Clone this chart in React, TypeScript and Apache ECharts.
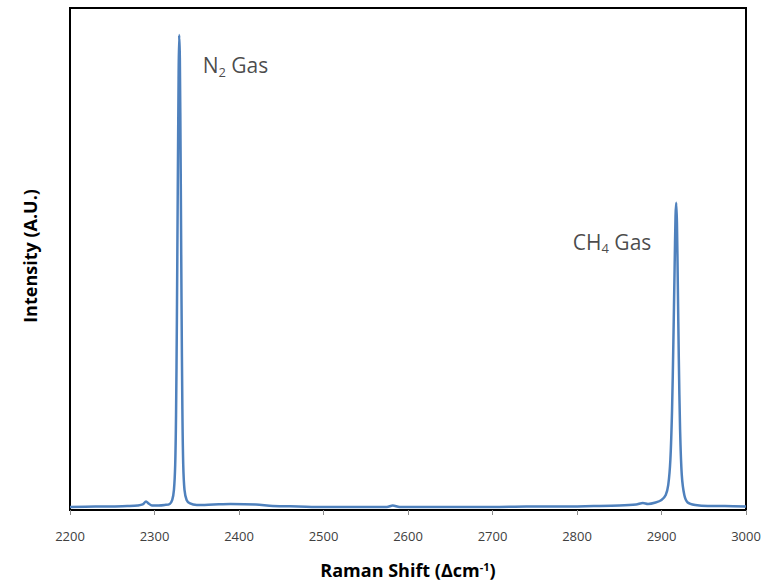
import React, { useEffect, useRef } from "react";
import * as echarts from "echarts";

const ramanShift = [
  2200, 2230, 2250, 2270, 2280, 2286, 2290, 2293, 2297, 2305, 2312, 2318, 2321, 2323, 2324.5,
  2325.5, 2326.5, 2327.5, 2328.5, 2329.2, 2330, 2331, 2332, 2333, 2334, 2335.5, 2338, 2342,
  2350, 2370, 2390, 2420, 2440, 2470, 2500, 2540, 2575, 2582, 2590, 2620, 2660, 2700, 2740,
  2780, 2820, 2850, 2870, 2878, 2884, 2893, 2900, 2905, 2908, 2910.5, 2912.5, 2914, 2915.5,
  2916.6, 2917.4, 2918.3, 2919.3, 2920.5, 2922, 2924, 2927, 2931, 2940, 2955, 2975, 3000,
];
const intensity = [
  0.006, 0.007, 0.007, 0.008, 0.009, 0.011, 0.017, 0.013, 0.009, 0.009, 0.01, 0.012, 0.02,
  0.04, 0.09, 0.19, 0.38, 0.63, 0.86, 0.946, 0.9, 0.68, 0.41, 0.2, 0.09, 0.04, 0.02, 0.013,
  0.01, 0.011, 0.012, 0.011, 0.008, 0.007, 0.006, 0.006, 0.006, 0.009, 0.006, 0.006, 0.006,
  0.006, 0.007, 0.007, 0.008, 0.009, 0.011, 0.014, 0.012, 0.015, 0.02, 0.03, 0.05, 0.1, 0.2,
  0.33, 0.48, 0.585, 0.612, 0.57, 0.45, 0.3, 0.16, 0.07, 0.03, 0.015, 0.01, 0.008, 0.008,
  0.007,
];
const xTicks = [2200, 2300, 2400, 2500, 2600, 2700, 2800, 2900, 3000];

const annotations = [
  { label: "N", sub: "2", rest: " Gas", x: 2357, y: 0.886 },
  { label: "CH", sub: "4", rest: " Gas", x: 2795, y: 0.534 },
];

export default function App() {
  const ref = useRef<HTMLDivElement>(null);
  useEffect(() => {
    if (!ref.current) return;
    const chart = echarts.init(ref.current, undefined, { renderer: "svg" });
    const font = "'Open Sans', 'Noto Sans', sans-serif";
    chart.setOption({
      animation: false,
      backgroundColor: "#ffffff",
      grid: {
        left: 70,
        right: 27,
        top: 8,
        bottom: 72,
        show: true,
        borderColor: "#000000",
        borderWidth: 2,
        backgroundColor: "transparent",
      },
      graphic: [
        {
          type: "text",
          x: 408,
          y: 570,
          style: {
            text: "{b|Raman Shift (Δcm}{sup|-1}{b|)}",
            align: "center",
            verticalAlign: "middle",
            rich: {
              b: { fontSize: 18, fontWeight: "bold", fontFamily: font, color: "#000000" },
              sup: {
                fontSize: 11,
                fontWeight: "bold",
                fontFamily: font,
                color: "#000000",
                verticalAlign: "top",
                padding: [0, 0, 7, 0],
              },
            },
          },
        },
        {
          type: "text",
          x: 30,
          y: 256,
          rotation: Math.PI / 2,
          style: {
            text: "Intensity (A.U.)",
            align: "center",
            verticalAlign: "middle",
            fontSize: 18,
            fontWeight: "bold",
            fontFamily: font,
            fill: "#000000",
          },
        },
      ],
      xAxis: {
        type: "value",
        min: 2200,
        max: 3000,
        interval: 100,
        axisLine: { show: true, lineStyle: { color: "#000000", width: 2 } },
        axisTick: { show: true, length: 5, lineStyle: { color: "#8c8c8c", width: 1 } },
        axisLabel: {
          color: "#404040",
          fontFamily: font,
          fontSize: 13,
          margin: 19,
          formatter: (v: number) => (xTicks.includes(v) ? String(v) : ""),
        },
        splitLine: { show: false },
      },
      yAxis: {
        type: "value",
        min: 0,
        max: 1,
        axisLine: { show: true, lineStyle: { color: "#000000", width: 2 } },
        axisTick: { show: false },
        axisLabel: { show: false },
        splitLine: { show: false },
      },
      series: [
        {
          type: "line",
          data: ramanShift.map((x, i) => [x, intensity[i]]),
          showSymbol: false,
          smooth: 0.3,
          lineStyle: { color: "#4f81bd", width: 2.5 },
          z: 3,
        },
        {
          type: "scatter",
          data: annotations.map((a) => [a.x, a.y]),
          symbolSize: 0,
          silent: true,
          label: {
            show: true,
            position: "right",
            distance: 0,
            fontFamily: font,
            formatter: (p: any) => {
              const a = annotations[p.dataIndex];
              return `{m|${a.label}}{s|${a.sub}}{m|${a.rest}}`;
            },
            rich: {
              m: { fontSize: 21, color: "#1a1a1a", fontFamily: font },
              s: {
                fontSize: 13,
                color: "#1a1a1a",
                fontFamily: font,
                verticalAlign: "bottom",
                padding: [13, 0, 0, 0],
              },
            },
          },
        },
      ],
    });
    return () => chart.dispose();
  }, []);
  return (
    <div
      ref={ref}
      style={{ position: "fixed", left: 0, top: 0, width: 773, height: 582 }}
    />
  );
}
